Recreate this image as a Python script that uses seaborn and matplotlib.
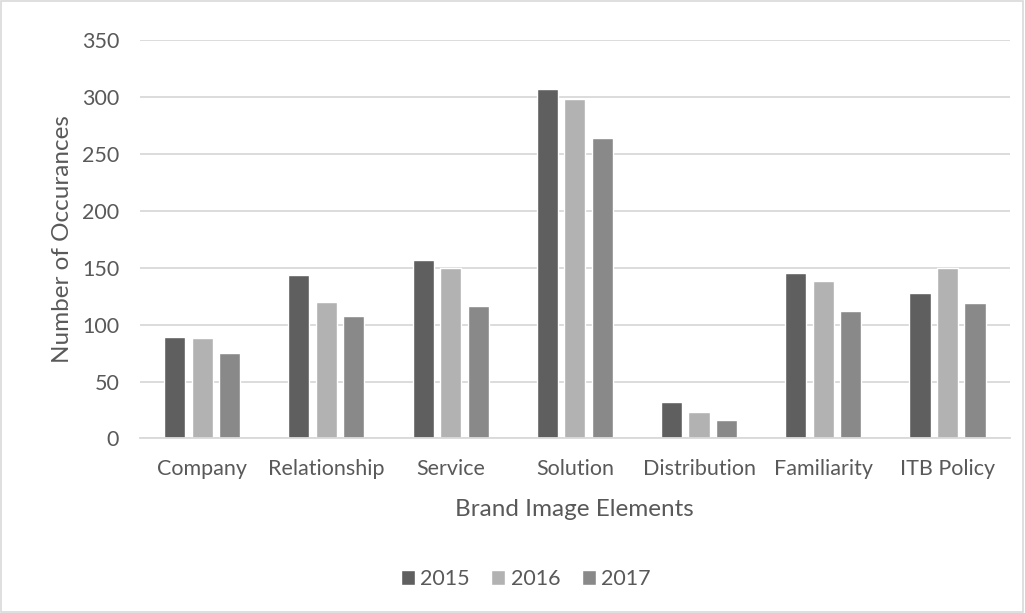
import matplotlib
matplotlib.use("Agg")
import matplotlib.pyplot as plt
import seaborn as sns
import pandas as pd
from matplotlib.patches import Rectangle

categories = ["Company", "Relationship", "Service", "Solution",
              "Distribution", "Familiarity", "ITB Policy"]
years = ["2015", "2016", "2017"]
values_2015 = [89, 144, 157, 307, 32, 145, 128]
values_2016 = [88, 120, 150, 298, 23, 138, 150]
values_2017 = [75, 108, 116, 264, 16, 112, 119]
y_ticks = [0, 50, 100, 150, 200, 250, 300, 350]

colors = ["#5f5f5f", "#b2b2b2", "#898989"]

df = pd.DataFrame({
    "Element": categories * 3,
    "Year": [y for y in years for _ in categories],
    "Count": values_2015 + values_2016 + values_2017,
})

sns.set_theme(style="white")
plt.rcParams["font.family"] = ["Lato", "DejaVu Sans"]
text_color = "#595959"

fig = plt.figure(figsize=(10.25, 6.13), dpi=100)
ax = fig.add_axes([0.1366, 0.2847, 0.8484, 0.65])

sns.barplot(data=df, x="Element", y="Count", hue="Year", order=categories,
            hue_order=years, palette=colors, width=0.664, gap=0.23,
            saturation=1, ax=ax, legend=True)

ax.set_ylim(0, 350)
ax.set_xlim(-0.5, len(categories) - 0.5)
ax.set_yticks(y_ticks)
ax.yaxis.grid(True, color="#d9d9d9", linewidth=1.3)
ax.set_axisbelow(True)
for side in ["left", "right", "top"]:
    ax.spines[side].set_visible(False)
ax.spines["bottom"].set_color("#d9d9d9")
ax.spines["bottom"].set_linewidth(1.3)
ax.tick_params(axis="both", length=0, labelsize=15.5, labelcolor=text_color)
ax.tick_params(axis="x", pad=15)
ax.tick_params(axis="y", pad=15)
ax.set_xlabel("Brand Image Elements", fontsize=17.5, color=text_color, labelpad=14)
ax.set_ylabel("Number of Occurances", fontsize=17.5, color=text_color, labelpad=6)

handles, labels = ax.get_legend_handles_labels()
ax.legend_.remove()
fig.legend(handles, labels, loc="center", bbox_to_anchor=(0.513, 0.0555),
           ncol=3, frameon=False, fontsize=15.5, handlelength=0.65,
           handleheight=0.65, handletextpad=0.25, columnspacing=1.0,
           labelcolor=text_color)

fig.patches.append(Rectangle((0.001, 0.002), 0.997, 0.996, transform=fig.transFigure,
                             fill=False, edgecolor="#d9d9d9", linewidth=1.2))

fig.savefig("out.png", dpi=100)
